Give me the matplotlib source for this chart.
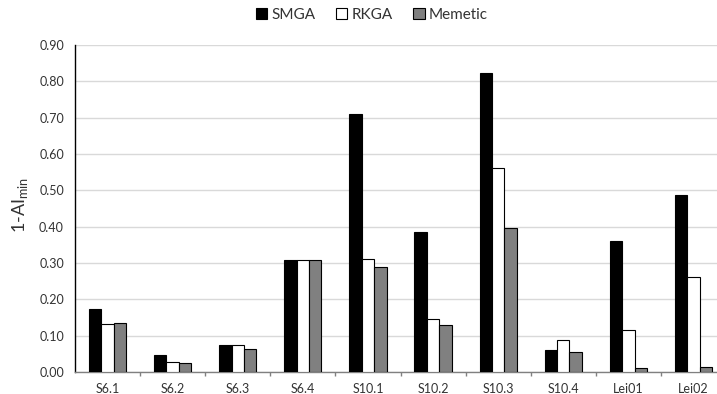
import matplotlib
matplotlib.use("Agg")
import matplotlib.pyplot as plt
import numpy as np
from matplotlib.patches import Patch

plt.rcParams['font.family'] = ['Lato', 'DejaVu Sans']

categories = ["S6.1", "S6.2", "S6.3", "S6.4", "S10.1", "S10.2", "S10.3", "S10.4", "Lei01", "Lei02"]
smga = [0.173, 0.047, 0.074, 0.307, 0.710, 0.385, 0.823, 0.061, 0.361, 0.487]
rkga = [0.131, 0.027, 0.074, 0.307, 0.311, 0.145, 0.561, 0.087, 0.116, 0.261]
memetic = [0.135, 0.024, 0.064, 0.307, 0.288, 0.129, 0.395, 0.056, 0.010, 0.013]
series_names = ["SMGA", "RKGA", "Memetic"]
colors = ["#000000", "#ffffff", "#808080"]
yticks = [0.0, 0.1, 0.2, 0.3, 0.4, 0.5, 0.6, 0.7, 0.8, 0.9]

W, H = 717, 394
fig = plt.figure(figsize=(W/100, H/100), dpi=100)
left, right, bottom, top = 75, 726, 372, 45
ax = fig.add_axes([left/W, 1-bottom/H, (right-left)/W, (bottom-top)/H])

x = np.arange(len(categories))
bw = 0.19
for i, (vals, c) in enumerate(zip([smga, rkga, memetic], colors)):
    ax.bar(x + (i-1)*bw, vals, width=bw, color=c, edgecolor="#000000", linewidth=0.8, zorder=3)

ax.set_xlim(-0.5, len(categories)-0.5)
ax.set_ylim(0, 0.9)
ax.set_yticks(yticks)
ax.set_yticklabels([f"{v:.2f}" for v in yticks], fontsize=9, color="#333333")
ax.tick_params(axis='y', length=0, pad=8)
ax.grid(axis='y', color="#d9d9d9", linewidth=1, zorder=0)

ax.set_xticks(x)
ax.set_xticklabels(categories, fontsize=9, color="#333333")
ax.tick_params(axis='x', length=0, pad=8)
ax.set_xticks(np.arange(0.5, len(categories)-0.5, 1), minor=True)
ax.tick_params(axis='x', which='minor', length=3, width=1, color="#808080", direction='out')

for s in ["top", "right"]:
    ax.spines[s].set_visible(False)
ax.spines["left"].set_color("#000000")
ax.spines["left"].set_linewidth(1)
ax.spines["bottom"].set_color("#808080")
ax.spines["bottom"].set_linewidth(1)

fig.text(20/W, 1-205/H, "1-AI$_{\\mathregular{min}}$", rotation=90, ha="center", va="center", fontsize=13, color="#333333")

handles = [Patch(facecolor=c, edgecolor="#000000", linewidth=0.8) for c in colors]
fig.legend(handles, series_names, loc="center", bbox_to_anchor=(372/W, 1-15/H), ncol=3,
           frameon=False, fontsize=11, handlelength=0.75, handleheight=0.75, handletextpad=0.3,
           columnspacing=1.3, labelcolor="#333333")

fig.savefig("out.png", dpi=100)
